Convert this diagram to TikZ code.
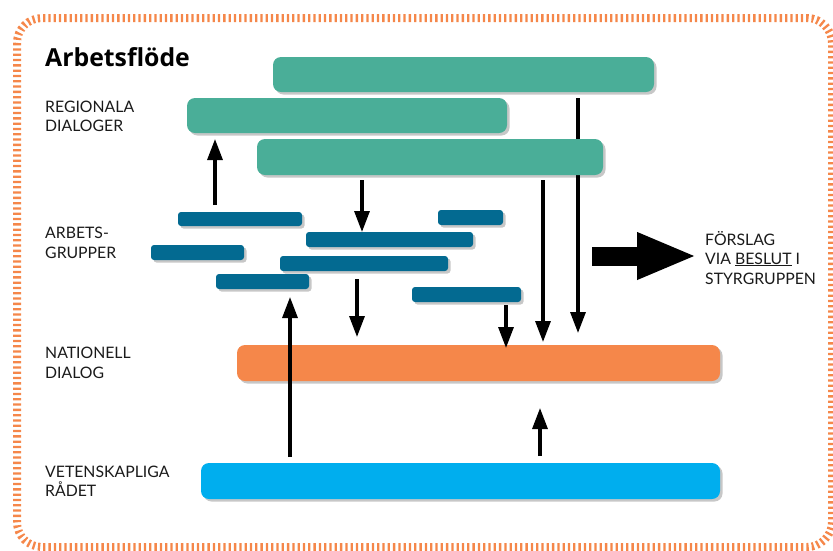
\documentclass[tikz,border=0pt]{standalone}
\usepackage{fontspec}
\setmainfont{Lato}
\newfontfamily\titlefont{Open Sans}
\usetikzlibrary{arrows.meta,shadows,fit,calc}
\definecolor{gbar}{HTML}{4AAE98}
\definecolor{bbar}{HTML}{036A91}
\definecolor{obar}{HTML}{F5874A}
\definecolor{cbar}{HTML}{00AEEE}
\definecolor{frame}{HTML}{F5874A}
\definecolor{txt}{HTML}{1A1A1A}
\tikzset{
  bar/.style={draw=none, inner sep=0pt, outer sep=0pt,
    drop shadow={shadow xshift=2.5pt, shadow yshift=-2.5pt, fill=black, opacity=0.22}},
  gbox/.style={bar, fill=gbar, rounded corners=8pt},
  bbox/.style={bar, fill=bbar, rounded corners=3pt},
  obox/.style={bar, fill=obar, rounded corners=8pt},
  cbox/.style={bar, fill=cbar, rounded corners=8pt},
  arr/.style={line width=3.2pt, -{Triangle[length=21pt,width=15pt]}},
  lbl/.style={anchor=base west, inner sep=0pt, text=txt, font=\fontsize{15.8}{19.5}\selectfont},
  bigarr/.style={line width=19pt, -{Triangle[length=60pt,width=43pt]}},
}
\begin{document}
\begin{tikzpicture}[x=1pt,y=-1pt]
\useasboundingbox (0,0) rectangle (833,550);
% frame
\draw[frame, line width=8pt, dash pattern=on 2.3pt off 3pt, rounded corners=25pt] (17,18) rectangle (832,547);
% title
\node[anchor=base west, inner sep=0pt, text=black, font=\titlefont\fontsize{24.8}{26}\selectfont\bfseries] (title) at (45,66) {Arbetsflöde};
% labels
\node[lbl] (l1a) at (45,112) {REGIONALA};
\node[lbl] (l1b) at (45,131) {DIALOGER};
\node[lbl] (l2a) at (45,238) {ARBETS-};
\node[lbl] (l2b) at (45,258) {GRUPPER};
\node[lbl] (l3a) at (45,358) {NATIONELL};
\node[lbl] (l3b) at (45,378) {DIALOG};
\node[lbl] (l4a) at (45,477) {VETENSKAPLIGA};
\node[lbl] (l4b) at (45,496) {RÅDET};
\node[lbl] (f1) at (705,245) {FÖRSLAG};
\node[lbl] (f2) at (705,264) {VIA \underline{BESLUT} I};
\node[lbl] (f3) at (705,284) {STYRGRUPPEN};
% boxes that the long arrow passes behind
\node[gbox, fit={(273,57) (654,92)}] (g1) {};
\node[obox, fit={(237,345) (720,381)}] (nat) {};
\coordinate (x6) at (578,0);
\draw[arr, shorten <=6pt, shorten >=12pt] (g1.south -| x6) -- (nat.north -| x6);
\node[gbox, fit={(187,98) (507,133)}] (g2) {};
\node[gbox, fit={(257,139) (603,175)}] (g3) {};
% working groups
\node[bbox, fit={(178,212) (302,226)}] (b1) {};
\node[bbox, fit={(438,210) (503,225)}] (b2) {};
\node[bbox, fit={(306,232) (473,247)}] (b3) {};
\node[bbox, fit={(151,245) (244,260)}] (b4) {};
\node[bbox, fit={(280,256) (448,271)}] (b5) {};
\node[bbox, fit={(216,274) (309,289)}] (b6) {};
\node[bbox, fit={(412,287) (521,302)}] (b7) {};
% science council
\node[cbox, fit={(201,463) (720,499)}] (vet) {};
% arrows
\coordinate (x1) at (215,0);
\coordinate (x2) at (362,0);
\coordinate (x3) at (357,0);
\coordinate (x4) at (506,0);
\coordinate (x5) at (543,0);
\coordinate (x7) at (290,0);
\coordinate (x8) at (540,0);
\draw[arr, shorten <=7pt, shorten >=6pt] (b1.north -| x1) -- (g2.south -| x1);
\draw[arr, shorten <=5pt] (g3.south -| x2) -- (b3.north -| x2);
\draw[arr, shorten <=8pt, shorten >=8pt] (b5.south -| x3) -- (nat.north -| x3);
\draw[arr, shorten <=3pt, shorten >=-3pt] (b7.south -| x4) -- (nat.north -| x4);
\draw[arr, shorten <=5pt, shorten >=3pt] (g3.south -| x5) -- (nat.north -| x5);
\draw[arr, shorten <=6pt, shorten >=8pt] (vet.north -| x7) -- (b6.south -| x7);
\draw[arr, shorten <=7pt, shorten >=27pt] (vet.north -| x8) -- (nat.south -| x8);
% big arrow to proposal
\coordinate (bs) at (592,256);
\draw[bigarr, shorten >=8pt] (bs) -- (bs -| f2.west);
\end{tikzpicture}
\end{document}
